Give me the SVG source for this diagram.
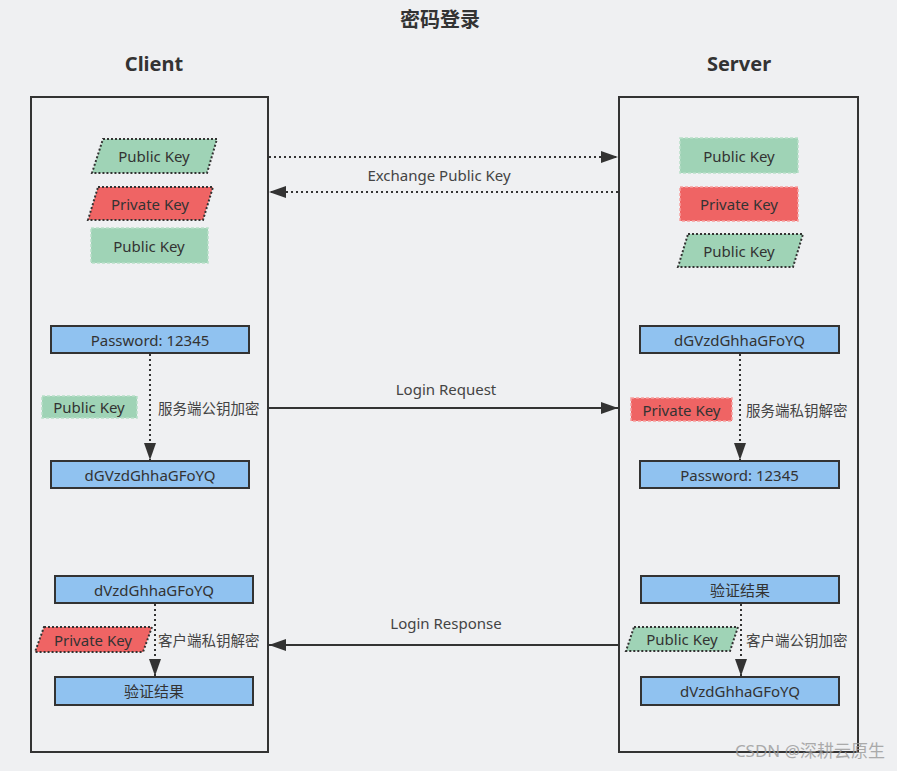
<svg xmlns="http://www.w3.org/2000/svg" width="897" height="771" viewBox="0 0 897 771">
<style>
text{font-family:"Noto Sans","Noto Sans CJK SC",sans-serif;fill:#333;}
.t{font-size:15px;text-anchor:middle;dominant-baseline:central;}
.lbl{font-size:14.5px;dominant-baseline:central;fill:#444;}
.h{font-weight:bold;font-size:20px;text-anchor:middle;}
.frame{fill:none;stroke:#333;stroke-width:2;}
.blue{fill:#90c2f0;stroke:#333;stroke-width:2;}
.gp{fill:#9fd3b6;stroke:#333;stroke-width:2;stroke-dasharray:2 2;}
.rp{fill:#ef6464;stroke:#333;stroke-width:2;stroke-dasharray:2 2;}
.gr{fill:#9fd3b6;stroke:#b9e0c9;stroke-width:1.5;stroke-dasharray:3 2;}
.rr{fill:#ef6464;stroke:#f7a0a0;stroke-width:1.5;stroke-dasharray:3 2;}
.dot{stroke:#333;stroke-width:2;stroke-dasharray:2 3;fill:none;}
.sol{stroke:#333;stroke-width:2;fill:none;}
</style>
<defs>
<marker id="ahb" viewBox="0 0 10 10" refX="10" refY="5" markerWidth="17" markerHeight="12" markerUnits="userSpaceOnUse" orient="auto" preserveAspectRatio="none"><path d="M0,0 L10,5 L0,10 Z" fill="#333"/></marker>
</defs>
<rect width="897" height="771" fill="#eff0f2"/>
<text x="440" y="27" class="h">密码登录</text>
<text x="154" y="71" class="h">Client</text>
<text x="739" y="71" class="h">Server</text>

<g id="client"><rect x="31" y="97" width="237" height="655" class="frame"/></g>
<g id="server"><rect x="619" y="97" width="239" height="655" class="frame"/></g>

<g id="c-pub1"><polygon points="103,139 217,139 207,173 92,173" class="gp"/><text x="154" y="156" class="t">Public Key</text></g>
<g id="c-priv"><polygon points="98,187 213,187 203,220 88,220" class="rp"/><text x="150" y="203.5" class="t">Private Key</text></g>
<g id="c-pub2"><rect x="91" y="228" width="117" height="35" class="gr"/><text x="149" y="245.5" class="t">Public Key</text></g>

<g id="s-pub1"><rect x="680" y="138" width="118" height="35" class="gr"/><text x="739" y="155.5" class="t">Public Key</text></g>
<g id="s-priv"><rect x="680" y="187" width="118" height="34" class="rr"/><text x="739" y="204" class="t">Private Key</text></g>
<g id="s-pub2"><polygon points="688,234 803,234 793,267 678,267" class="gp"/><text x="739" y="250.5" class="t">Public Key</text></g>

<g id="c-pwd"><rect x="51" y="326" width="198" height="27" class="blue"/><text x="150" y="339.5" class="t">Password: 12345</text></g>
<g id="c-enc"><rect x="51" y="461" width="198" height="27" class="blue"/><text x="150" y="474.5" class="t">dGVzdGhhaGFoYQ</text></g>
<g id="c-pubk"><rect x="42" y="396" width="95" height="22" class="gr"/><text x="89" y="407" class="t">Public Key</text></g>
<g id="c-lbl1"><text x="158" y="408" class="lbl">服务端公钥加密</text></g>

<g id="s-enc"><rect x="640" y="326" width="199" height="27" class="blue"/><text x="739.5" y="339.5" class="t">dGVzdGhhaGFoYQ</text></g>
<g id="s-pwd"><rect x="640" y="461" width="199" height="27" class="blue"/><text x="739.5" y="474.5" class="t">Password: 12345</text></g>
<g id="s-privk"><rect x="631" y="398" width="101" height="23" class="rr"/><text x="681.5" y="409.5" class="t">Private Key</text></g>
<g id="s-lbl1"><text x="746" y="410" class="lbl">服务端私钥解密</text></g>

<g id="c-resp"><rect x="55" y="576" width="198" height="27" class="blue"/><text x="154" y="589.5" class="t">dVzdGhhaGFoYQ</text></g>
<g id="c-res"><rect x="55" y="677" width="198" height="28" class="blue"/><text x="154" y="691" class="t">验证结果</text></g>
<g id="c-privk2"><polygon points="44,627 152,627 143,652 35,652" class="rp"/><text x="93" y="639.5" class="t">Private Key</text></g>
<g id="c-lbl2"><text x="158" y="640" class="lbl">客户端私钥解密</text></g>

<g id="s-res"><rect x="641" y="576" width="198" height="27" class="blue"/><text x="740" y="589.5" class="t">验证结果</text></g>
<g id="s-resp"><rect x="641" y="677" width="198" height="28" class="blue"/><text x="740" y="691" class="t">dVzdGhhaGFoYQ</text></g>
<g id="s-pubk2"><polygon points="634,627 738,627 730,651 626,651" class="gp"/><text x="682" y="639" class="t">Public Key</text></g>
<g id="s-lbl2"><text x="746" y="640" class="lbl">客户端公钥加密</text></g>

<g id="connectors">
<line x1="269" y1="157" x2="618" y2="157" class="dot" marker-end="url(#ahb)"/>
<line x1="618" y1="192" x2="269" y2="192" class="dot" marker-end="url(#ahb)"/>
<text x="439" y="175" class="t" style="fill:#444">Exchange Public Key</text>
<line x1="150" y1="354" x2="150" y2="460" class="dot" marker-end="url(#ahb)"/>
<line x1="740" y1="354" x2="740" y2="460" class="dot" marker-end="url(#ahb)"/>
<line x1="269" y1="408" x2="618" y2="408" class="sol" marker-end="url(#ahb)"/>
<text x="446" y="389" class="t" style="fill:#444">Login Request</text>
<line x1="155" y1="604" x2="155" y2="676" class="dot" marker-end="url(#ahb)"/>
<line x1="741" y1="604" x2="741" y2="676" class="dot" marker-end="url(#ahb)"/>
<line x1="618" y1="645" x2="269" y2="645" class="sol" marker-end="url(#ahb)"/>
<text x="446" y="623" class="t" style="fill:#444">Login Response</text>
</g>
<text x="885" y="757" style="font-size:17px;text-anchor:end;fill:#999;opacity:0.8">CSDN @深耕云原生</text>
</svg>
